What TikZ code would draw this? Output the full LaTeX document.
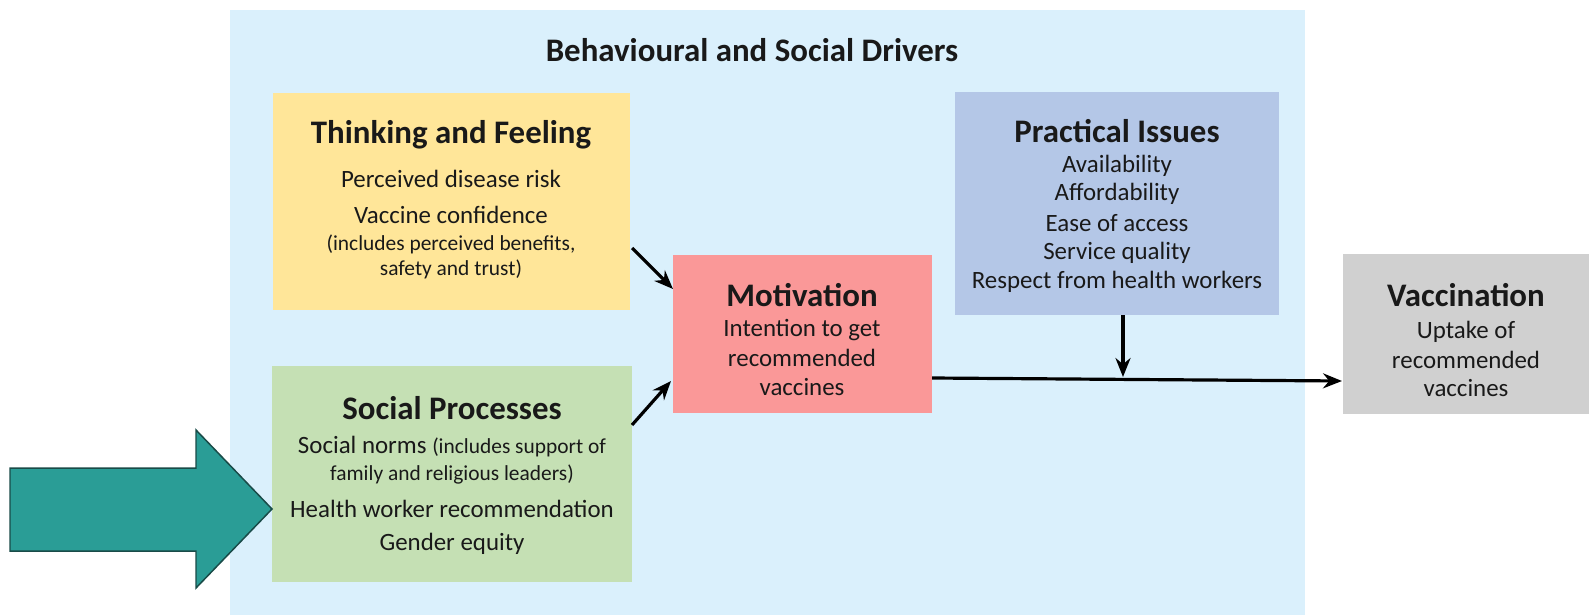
\documentclass[tikz,border=0pt]{standalone}
\usepackage{fontspec}
\setmainfont{Carlito}
\usetikzlibrary{arrows.meta,calc}
\definecolor{bgblue}{RGB}{218,240,252}
\definecolor{tfyellow}{RGB}{255,230,153}
\definecolor{spgreen}{RGB}{197,224,180}
\definecolor{motred}{RGB}{250,152,152}
\definecolor{piblue}{RGB}{180,199,231}
\definecolor{vacgray}{RGB}{208,208,208}
\definecolor{teal1}{RGB}{42,157,150}
\definecolor{teal2}{RGB}{25,75,72}
\definecolor{ink}{RGB}{25,25,25}
\tikzset{
  box/.style={draw=none,inner sep=0pt,anchor=north west},
  head/.style={font=\fontsize{33}{36}\selectfont\bfseries,inner sep=0pt,text=ink},
  txt/.style={font=\fontsize{25}{28}\selectfont,inner sep=0pt,text=ink},
  small/.style={font=\fontsize{21.5}{24}\selectfont,inner sep=0pt,text=ink},
  conn/.style={-{Stealth[length=19pt,width=15pt]},line width=3.2pt,black},
}
\begin{document}
\begin{tikzpicture}[x=1bp,y=-1bp]
\useasboundingbox (0,0) rectangle (1589,615);
\fill[white] (0,0) rectangle (1589,615);
% background panel
\node[box,fill=bgblue,minimum width=1075bp,minimum height=605bp] (bg) at (230,10) {};
\node[font=\fontsize{33}{36}\selectfont\bfseries,inner sep=0pt,text=ink] (title) at (752,50) {Behavioural and Social Drivers};
% boxes
\node[box,fill=tfyellow,minimum width=357bp,minimum height=217bp] (tf) at (273,93) {};
\node[box,fill=spgreen,minimum width=360bp,minimum height=216bp] (sp) at (272,366) {};
\node[box,fill=motred,minimum width=259bp,minimum height=158bp] (mot) at (673,255) {};
\node[box,fill=piblue,minimum width=324bp,minimum height=223bp] (pi) at (955,92) {};
\node[box,fill=vacgray,minimum width=246bp,minimum height=160bp] (vac) at (1343,254) {};
% Thinking and Feeling
\node[head] (tfh) at (451,135) {Thinking and Feeling};
\node[txt] (tf1) at (451,179) {Perceived disease risk};
\node[txt] (tf2) at (451,215) {Vaccine confidence};
\node[small] (tf3) at (451,244) {(includes perceived benefits,};
\node[small] (tf4) at (451,269) {safety and trust)};
% Social Processes
\node[head] (sph) at (452,408) {Social Processes};
\node[txt] (sp1) at (452,447) {Social norms {\fontsize{21.5}{24}\selectfont(includes support of}};
\node[small] (sp2) at (452,475) {family and religious leaders)};
\node[txt] (sp3) at (452,509) {Health worker recommendation};
\node[txt] (sp4) at (452,544) {Gender equity};
% Motivation
\node[head] (moth) at (802,295) {Motivation};
\node[txt] (mot1) at (802,330) {Intention to get};
\node[txt] (mot2) at (802,358) {recommended};
\node[txt] (mot3) at (802,387) {vaccines};
% Practical Issues
\node[head] (pih) at (1117,131) {Practical Issues};
\node[txt] (pi1) at (1117,166) {Availability};
\node[txt] (pi2) at (1117,194) {Affordability};
\node[txt] (pi3) at (1117,223) {Ease of access};
\node[txt] (pi4) at (1117,253) {Service quality};
\node[txt] (pi5) at (1117,282) {Respect from health workers};
% Vaccination
\node[head] (vach) at (1466,295) {Vaccination};
\node[txt] (vac1) at (1466,332) {Uptake of};
\node[txt] (vac2) at (1466,360) {recommended};
\node[txt] (vac3) at (1466,388) {vaccines};
% connectors
\coordinate (c1) at (632,248);
\coordinate (c2) at (673,289);
\coordinate (c3) at (632,425);
\coordinate (c4) at (671,381);
\coordinate (c5) at (932,378);
\coordinate (c6) at (1342,381);
\coordinate (c7) at (1123,377);
\draw[conn] (c1) -- (c2);
\draw[conn] (c3) -- (c4);
\draw[conn] (c5) -- (c6);
\draw[conn] (pi.south -| c7) -- (c7);
% teal block arrow
\draw[fill=teal1,draw=teal2,line width=1.5pt,line join=miter]
  (10,468) -- (196,468) -- (196,430) -- (272,509) -- (196,588) -- (196,551) -- (10,551) -- cycle;
\end{tikzpicture}
\end{document}
